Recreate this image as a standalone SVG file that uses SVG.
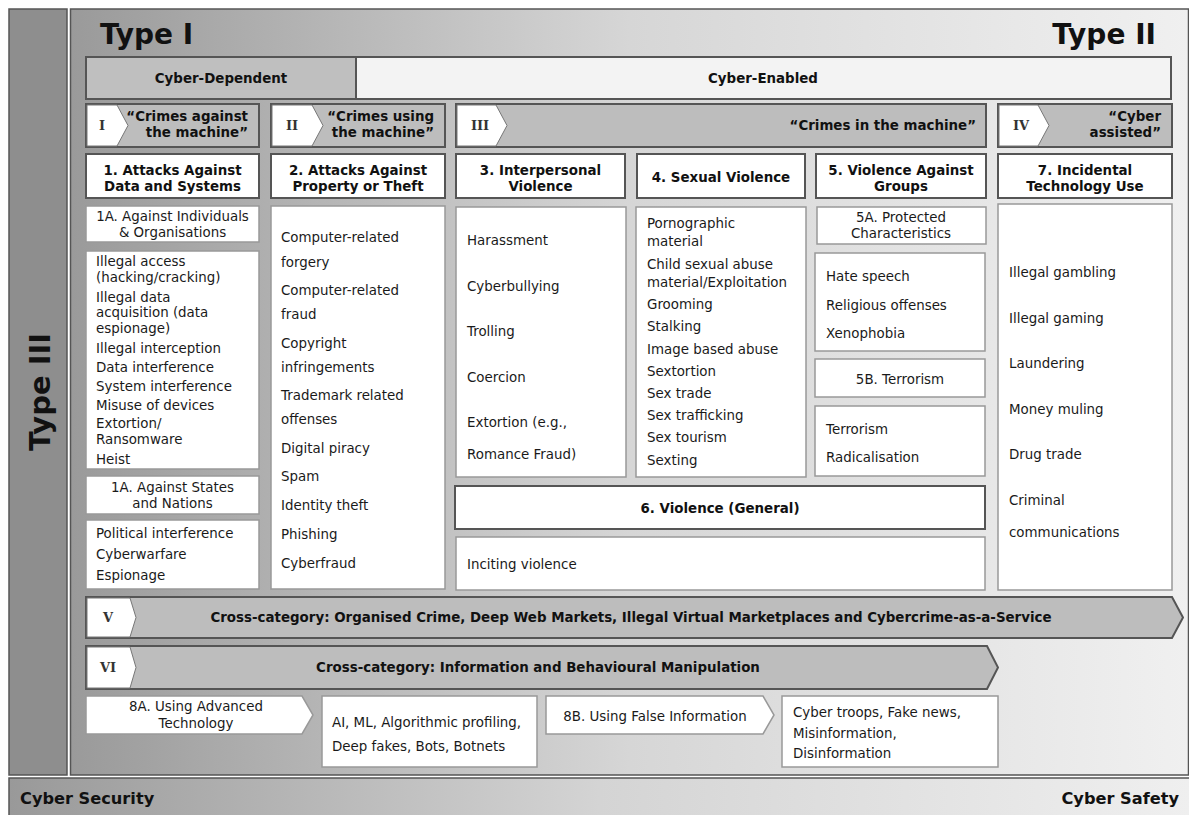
<svg xmlns="http://www.w3.org/2000/svg" width="1189" height="815" viewBox="0 0 1189 815">
<defs>
<linearGradient id="gMain" x1="0" y1="0" x2="1" y2="0">
<stop offset="0" stop-color="#9a9a9a"/>
<stop offset="0.5" stop-color="#d6d6d6"/>
<stop offset="1" stop-color="#f0f0f0"/>
</linearGradient>
<linearGradient id="gBand" x1="0" y1="0" x2="1" y2="0">
<stop offset="0" stop-color="#999999"/>
<stop offset="0.5" stop-color="#d4d4d4"/>
<stop offset="1" stop-color="#efefef"/>
</linearGradient>
<style>
.t{font-family:"DejaVu Sans",Verdana,sans-serif;font-size:13.4px;fill:#1a1a1a}
.b{font-weight:bold;fill:#111}
.c{text-anchor:middle}
.r{text-anchor:end}
.rn{font-family:"DejaVu Serif",serif;font-weight:bold;font-size:13px;fill:#333;text-anchor:middle}
.big{font-family:"DejaVu Sans",Verdana,sans-serif;font-weight:bold;font-size:28px;fill:#111}
.hdr{fill:#fff;stroke:#555;stroke-width:2}
.box{fill:#fff;stroke:#999;stroke-width:1.5}
.gr{fill:#bdbdbd;stroke:#555;stroke-width:2}
.chev{fill:#fff;stroke:#777;stroke-width:1}
</style>
</defs>
<rect width="1189" height="815" fill="#fff"/>

<g id="type3">
<rect x="9" y="9" width="58" height="766" fill="#8e8e8e" stroke="#555" stroke-width="1.5"/>
<text class="big" transform="translate(50,392) rotate(-90)" text-anchor="middle" style="font-size:29px">Type III</text>
</g>

<g id="main-panel">
<rect x="70.5" y="9" width="1118" height="766" fill="url(#gMain)" stroke="#555" stroke-width="1.5"/>
<text class="big" x="100" y="44">Type I</text>
<text class="big" x="1156" y="44" text-anchor="end">Type II</text>
</g>

<g id="band">
<rect x="9" y="778" width="1181" height="38" fill="url(#gBand)" stroke="#555" stroke-width="1.5"/>
<text class="t b" x="20" y="804" style="font-size:16.2px">Cyber Security</text>
<text class="t b r" x="1179" y="804" style="font-size:16.2px">Cyber Safety</text>
</g>

<g id="cyber-dependent">
<rect x="86" y="57" width="270" height="42" fill="#bfbfbf" stroke="#555" stroke-width="2"/>
<text class="t b c" x="221" y="83">Cyber-Dependent</text>
</g>
<g id="cyber-enabled">
<rect x="356" y="57" width="815" height="42" fill="#f3f3f3" stroke="#555" stroke-width="2"/>
<text class="t b c" x="763" y="83">Cyber-Enabled</text>
</g>

<g id="roman-I">
<rect class="gr" x="86" y="104" width="173" height="43"/>
<polygon class="chev" points="87,105 117,105 128,125.5 117,146 87,146"/>
<text class="rn" x="102" y="130">I</text>
<text class="t b r" x="248" y="121">“Crimes against</text>
<text class="t b r" x="248" y="137">the machine”</text>
</g>
<g id="roman-II">
<rect class="gr" x="271" y="104" width="174" height="43"/>
<polygon class="chev" points="272,105 312,105 323,125.5 312,146 272,146"/>
<text class="rn" x="292" y="130">II</text>
<text class="t b r" x="434" y="121">“Crimes using</text>
<text class="t b r" x="434" y="137">the machine”</text>
</g>
<g id="roman-III">
<rect class="gr" x="456" y="104" width="530" height="43"/>
<polygon class="chev" points="457,105 496,105 507,125.5 496,146 457,146"/>
<text class="rn" x="480" y="130">III</text>
<text class="t b r" x="976" y="130">“Crimes in the machine”</text>
</g>
<g id="roman-IV">
<rect class="gr" x="998" y="104" width="174" height="43"/>
<polygon class="chev" points="999,105 1038,105 1049,125.5 1038,146 999,146"/>
<text class="rn" x="1021" y="130">IV</text>
<text class="t b r" x="1161" y="121">“Cyber</text>
<text class="t b r" x="1161" y="137">assisted”</text>
</g>

<g id="cat1">
<rect class="hdr" x="86" y="154" width="173" height="44"/>
<text class="t b c" x="172.5" y="175">1. Attacks Against</text>
<text class="t b c" x="172.5" y="191">Data and Systems</text>
</g>
<g id="cat1a-ind">
<rect class="box" x="86" y="206" width="173" height="36"/>
<text class="t c" x="172.5" y="221">1A. Against Individuals</text>
<text class="t c" x="172.5" y="237">&amp; Organisations</text>
</g>
<g id="cat1a-ind-list">
<rect class="box" x="86" y="251" width="173" height="218"/>
<text class="t" x="96" y="266">Illegal access</text>
<text class="t" x="96" y="282">(hacking/cracking)</text>
<text class="t" x="96" y="302">Illegal data</text>
<text class="t" x="96" y="317">acquisition (data</text>
<text class="t" x="96" y="333">espionage)</text>
<text class="t" x="96" y="353">Illegal interception</text>
<text class="t" x="96" y="372">Data interference</text>
<text class="t" x="96" y="391">System interference</text>
<text class="t" x="96" y="410">Misuse of devices</text>
<text class="t" x="96" y="428">Extortion/</text>
<text class="t" x="96" y="444">Ransomware</text>
<text class="t" x="96" y="464">Heist</text>
</g>
<g id="cat1a-states">
<rect class="box" x="86" y="476" width="173" height="38"/>
<text class="t c" x="172.5" y="492">1A. Against States</text>
<text class="t c" x="172.5" y="508">and Nations</text>
</g>
<g id="cat1a-states-list">
<rect class="box" x="86" y="520" width="173" height="69"/>
<text class="t" x="96" y="538">Political interference</text>
<text class="t" x="96" y="559">Cyberwarfare</text>
<text class="t" x="96" y="580">Espionage</text>
</g>

<g id="cat2">
<rect class="hdr" x="271" y="154" width="174" height="44"/>
<text class="t b c" x="358" y="175">2. Attacks Against</text>
<text class="t b c" x="358" y="191">Property or Theft</text>
</g>
<g id="cat2-list">
<rect class="box" x="271" y="206" width="174" height="383"/>
<text class="t" x="281" y="242">Computer-related</text>
<text class="t" x="281" y="267">forgery</text>
<text class="t" x="281" y="295">Computer-related</text>
<text class="t" x="281" y="319">fraud</text>
<text class="t" x="281" y="348">Copyright</text>
<text class="t" x="281" y="372">infringements</text>
<text class="t" x="281" y="400">Trademark related</text>
<text class="t" x="281" y="424">offenses</text>
<text class="t" x="281" y="453">Digital piracy</text>
<text class="t" x="281" y="481">Spam</text>
<text class="t" x="281" y="510">Identity theft</text>
<text class="t" x="281" y="539">Phishing</text>
<text class="t" x="281" y="568">Cyberfraud</text>
</g>

<g id="cat3">
<rect class="hdr" x="456" y="154" width="169" height="44"/>
<text class="t b c" x="540.5" y="175">3. Interpersonal</text>
<text class="t b c" x="540.5" y="191">Violence</text>
</g>
<g id="cat3-list">
<rect class="box" x="456" y="207" width="170" height="270"/>
<text class="t" x="467" y="245">Harassment</text>
<text class="t" x="467" y="291">Cyberbullying</text>
<text class="t" x="467" y="336">Trolling</text>
<text class="t" x="467" y="382">Coercion</text>
<text class="t" x="467" y="427">Extortion (e.g.,</text>
<text class="t" x="467" y="459">Romance Fraud)</text>
</g>

<g id="cat4">
<rect class="hdr" x="637" y="154" width="168" height="44"/>
<text class="t b c" x="721" y="182">4. Sexual Violence</text>
</g>
<g id="cat4-list">
<rect class="box" x="636" y="207" width="170" height="270"/>
<text class="t" x="647" y="228">Pornographic</text>
<text class="t" x="647" y="246">material</text>
<text class="t" x="647" y="269">Child sexual abuse</text>
<text class="t" x="647" y="287">material/Exploitation</text>
<text class="t" x="647" y="309">Grooming</text>
<text class="t" x="647" y="331">Stalking</text>
<text class="t" x="647" y="354">Image based abuse</text>
<text class="t" x="647" y="376">Sextortion</text>
<text class="t" x="647" y="398">Sex trade</text>
<text class="t" x="647" y="420">Sex trafficking</text>
<text class="t" x="647" y="442">Sex tourism</text>
<text class="t" x="647" y="465">Sexting</text>
</g>

<g id="cat5">
<rect class="hdr" x="816" y="154" width="170" height="44"/>
<text class="t b c" x="901" y="175">5. Violence Against</text>
<text class="t b c" x="901" y="191">Groups</text>
</g>
<g id="cat5a">
<rect class="box" x="817" y="207" width="169" height="37"/>
<text class="t c" x="901" y="222">5A. Protected</text>
<text class="t c" x="901" y="238">Characteristics</text>
</g>
<g id="cat5a-list">
<rect class="box" x="815" y="253" width="170" height="98"/>
<text class="t" x="826" y="281">Hate speech</text>
<text class="t" x="826" y="310">Religious offenses</text>
<text class="t" x="826" y="338">Xenophobia</text>
</g>
<g id="cat5b">
<rect class="box" x="815" y="359" width="170" height="38"/>
<text class="t c" x="900" y="384">5B. Terrorism</text>
</g>
<g id="cat5b-list">
<rect class="box" x="815" y="406" width="170" height="70"/>
<text class="t" x="826" y="434">Terrorism</text>
<text class="t" x="826" y="462">Radicalisation</text>
</g>

<g id="cat6">
<rect class="hdr" x="455" y="486" width="530" height="43"/>
<text class="t b c" x="720" y="513">6. Violence (General)</text>
</g>
<g id="cat6-list">
<rect class="box" x="456" y="537" width="529" height="53"/>
<text class="t" x="467" y="569">Inciting violence</text>
</g>

<g id="cat7">
<rect class="hdr" x="998" y="154" width="174" height="44"/>
<text class="t b c" x="1085" y="175">7. Incidental</text>
<text class="t b c" x="1085" y="191">Technology Use</text>
</g>
<g id="cat7-list">
<rect class="box" x="998" y="204" width="174" height="386"/>
<text class="t" x="1009" y="277">Illegal gambling</text>
<text class="t" x="1009" y="323">Illegal gaming</text>
<text class="t" x="1009" y="368">Laundering</text>
<text class="t" x="1009" y="414">Money muling</text>
<text class="t" x="1009" y="459">Drug trade</text>
<text class="t" x="1009" y="505">Criminal</text>
<text class="t" x="1009" y="537">communications</text>
</g>

<g id="roman-V">
<polygon class="gr" points="86,597 1172,597 1183,617.5 1172,638 86,638"/>
<polygon class="chev" points="87,598 130,598 136,617.5 130,637 87,637"/>
<text class="rn" x="108" y="622">V</text>
<text class="t b c" x="631" y="622">Cross-category: Organised Crime, Deep Web Markets, Illegal Virtual Marketplaces and Cybercrime-as-a-Service</text>
</g>
<g id="roman-VI">
<polygon class="gr" points="86,646 987,646 998,667.5 987,689 86,689"/>
<polygon class="chev" points="87,647 130,647 136,667.5 130,688 87,688"/>
<text class="rn" x="108" y="672">VI</text>
<text class="t b c" x="538" y="672">Cross-category: Information and Behavioural Manipulation</text>
</g>

<g id="cat8a">
<polygon class="box" points="86,696 302,696 313,715 302,734 86,734"/>
<text class="t c" x="196" y="711">8A. Using Advanced</text>
<text class="t c" x="196" y="728">Technology</text>
</g>
<g id="cat8a-list">
<rect class="box" x="322" y="696" width="215" height="71"/>
<text class="t" x="332" y="727">AI, ML, Algorithmic profiling,</text>
<text class="t" x="332" y="751">Deep fakes, Bots, Botnets</text>
</g>
<g id="cat8b">
<polygon class="box" points="546,696 763,696 774,715 763,734 546,734"/>
<text class="t c" x="655" y="721">8B. Using False Information</text>
</g>
<g id="cat8b-list">
<rect class="box" x="782" y="696" width="216" height="71"/>
<text class="t" x="793" y="717">Cyber troops, Fake news,</text>
<text class="t" x="793" y="738">Misinformation,</text>
<text class="t" x="793" y="758">Disinformation</text>
</g>

<g id="connectors"/>
</svg>
